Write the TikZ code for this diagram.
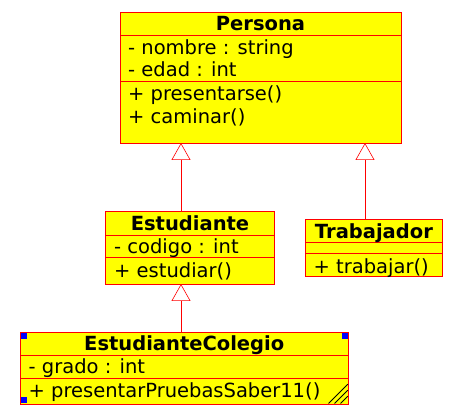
\documentclass[tikz,border=0pt]{standalone}
\usepackage{fontspec}
\setmainfont{DejaVu Sans}
\usetikzlibrary{arrows.meta}
\definecolor{umlfill}{HTML}{FFFF00}
\definecolor{umlline}{HTML}{FF0000}

\begin{document}
\begin{tikzpicture}[x=1pt,y=-1pt,
    classbox/.style={draw=umlline,fill=umlfill,line width=0.8pt},
    sep/.style={draw=umlline,line width=0.8pt},
    title/.style={font=\fontsize{19.5}{22.5}\selectfont\bfseries,inner sep=0pt,anchor=base},
    member/.style={font=\fontsize{19.5}{22.5}\selectfont,inner sep=0pt,anchor=base west},
    inherit/.style={draw=umlline,line width=0.6pt,-{Triangle[open,length=17pt,width=19pt,fill=white]}}]
    \useasboundingbox (0,0) rectangle (453,411);

    % Persona
        \draw[classbox] (120,12) rectangle (401,143);
        \draw[sep] (120,35) -- (401,35);
        \draw[sep] (120,81) -- (401,81);
        \node[title] (persona) at (260.5,31) {Persona};
        \node[member] (persona-nombre) at (128,54.3) {- nombre : string};
        \node[member] (persona-edad) at (128,76.8) {- edad : int};
        \node[member] (persona-presentarse) at (128,100.7) {+ presentarse()};
        \node[member] (persona-caminar) at (128,123.2) {+ caminar()};
        \coordinate (persona-a) at (181,143);
        \coordinate (persona-b) at (365,143);

    % Estudiante
        \draw[classbox] (105.7,211.7) rectangle (274.3,284);
        \draw[sep] (105.7,235) -- (274.3,235);
        \draw[sep] (105.7,257.7) -- (274.3,257.7);
        \node[title] (estudiante) at (190,230.7) {Estudiante};
        \node[member] (estudiante-codigo) at (114,253.3) {- codigo : int};
        \node[member] (estudiante-estudiar) at (114,277.6) {+ estudiar()};
        \coordinate (estudiante-top) at (181,211.7);
        \coordinate (estudiante-bot) at (181,284);

    % Trabajador
        \draw[classbox] (305,219.3) rectangle (442.7,276.7);
        \draw[sep] (305,242.3) -- (442.7,242.3);
        \draw[sep] (305,253.7) -- (442.7,253.7);
        \node[title] (trabajador) at (373.9,238.3) {Trabajador};
        \node[member] (trabajador-trabajar) at (313.5,273.3) {+ trabajar()};
        \coordinate (trabajador-top) at (365,219.3);

    % EstudianteColegio
        \draw[classbox] (20,332.3) rectangle (348.3,404);
        \draw[sep] (20,355.7) -- (348.3,355.7);
        \draw[sep] (20,378.3) -- (348.3,378.3);
        \node[title] (colegio) at (184.2,350.7) {EstudianteColegio};
        \node[member] (colegio-grado) at (28.5,373.3) {- grado : int};
        \node[member] (colegio-presentar) at (28.5,397.3) {+ presentarPruebasSaber11()};
        \coordinate (colegio-top) at (181,332.3);
        \fill[blue] (20.5,332.8) rectangle (26.5,338.8);
        \fill[blue] (341.8,332.8) rectangle (347.8,338.8);
        \fill[blue] (20.5,397.5) rectangle (26.5,403.5);
        \draw[line width=1pt] (328.5,403.5) -- (347.8,384.2);
        \draw[line width=1pt] (334.5,403.5) -- (347.8,390.2);
        \draw[line width=1pt] (340.5,403.5) -- (347.8,396.2);

    % herencia
        \draw[inherit] (estudiante-top) -- (persona-a);
        \draw[inherit] (trabajador-top) -- (persona-b);
        \draw[inherit] (colegio-top) -- (estudiante-bot);

    \end{tikzpicture}
\end{document}
